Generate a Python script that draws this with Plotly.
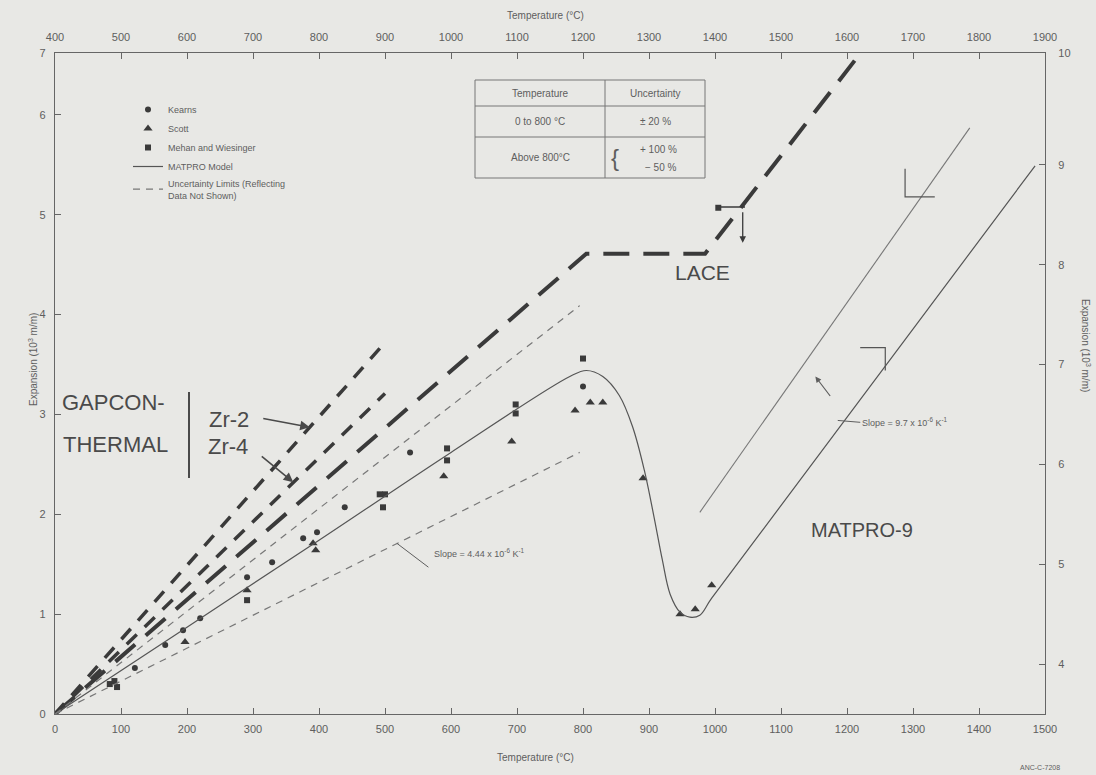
import plotly.graph_objects as go

# ---- measured data (temperature in deg C, expansion in 1e-3 m/m) ----
kearns_T = [121, 167, 194, 220, 291, 329, 376, 397, 439, 538, 800]
kearns_E = [0.46, 0.69, 0.84, 0.96, 1.37, 1.52, 1.76, 1.82, 2.07, 2.62, 3.28]

scott_T = [197, 291, 391, 395, 589, 692, 788, 811, 830, 891, 947, 970, 995]
scott_E = [0.72, 1.24, 1.71, 1.64, 2.38, 2.73, 3.04, 3.12, 3.12, 2.36, 1.00, 1.05, 1.29]

mehan_T = [83, 90, 94, 291, 492, 500, 497, 594, 594, 698, 698, 800, 1005]
mehan_E = [0.30, 0.33, 0.27, 1.14, 2.20, 2.20, 2.07, 2.66, 2.54, 3.10, 3.01, 3.56, 5.07]

# ---- MATPRO-9 model curve ----
model_T = [0, 200, 400, 600, 780, 805, 830, 855, 875, 893, 908, 920, 932, 947, 962, 977, 995, 1485]
model_E = [0, 0.87, 1.74, 2.62, 3.38, 3.44, 3.38, 3.19, 2.88, 2.44, 1.96, 1.55, 1.20, 1.02, 0.97, 0.99, 1.16, 5.49]

# ---- uncertainty limits ----
unc_hi_T = [0, 795]
unc_hi_E = [0, 4.09]
unc_lo_T = [0, 795]
unc_lo_E = [0, 2.62]
beta_hi_T = [977, 1386]
beta_hi_E = [2.02, 5.87]

# ---- other codes ----
gap_zr2_T = [0, 500]
gap_zr2_E = [0, 3.72]
gap_zr4_T = [0, 500]
gap_zr4_E = [0, 3.21]
lace_T = [0, 805, 985, 1217]
lace_E = [0, 4.61, 4.61, 6.59]

# small end-of-range flags
flag1_T = [1288, 1288, 1333]
flag1_E = [5.46, 5.18, 5.18]
flag2_T = [1220, 1258, 1258]
flag2_E = [3.67, 3.67, 3.44]

# ---- axes ----
bottom_ticks = list(range(0, 1501, 100))
top_ticks = list(range(400, 1901, 100))
left_ticks = [0, 1, 2, 3, 4, 5, 6, 6.62]
left_text = ["0", "1", "2", "3", "4", "5", "6", "7"]
right_ticks = [4, 5, 6, 7, 8, 9, 10.12]
right_text = ["4", "5", "6", "7", "8", "9", "10"]

INK = "#3a3a3a"
GREY = "#5e5e5e"
BG = "#e8e8e5"
FONT = "Liberation Sans"

fig = go.Figure()

# code predictions (thick dashed)
fig.add_trace(go.Scatter(x=gap_zr2_T, y=gap_zr2_E, mode="lines", showlegend=False,
                         line=dict(color=INK, width=3.5, dash="14px,11px")))
fig.add_trace(go.Scatter(x=gap_zr4_T, y=gap_zr4_E, mode="lines", showlegend=False,
                         line=dict(color=INK, width=3.5, dash="14px,11px")))
fig.add_trace(go.Scatter(x=lace_T, y=lace_E, mode="lines", showlegend=False,
                         line=dict(color=INK, width=4, dash="26px,14px")))

# data
fig.add_trace(go.Scatter(x=kearns_T, y=kearns_E, mode="markers", name="Kearns",
                         marker=dict(symbol="circle", size=6, color=INK)))
fig.add_trace(go.Scatter(x=scott_T, y=scott_E, mode="markers", name="Scott",
                         marker=dict(symbol="triangle-up", size=8, color=INK)))
fig.add_trace(go.Scatter(x=mehan_T, y=mehan_E, mode="markers", name="Mehan and Wiesinger",
                         marker=dict(symbol="square", size=6, color=INK)))

# model and limits
fig.add_trace(go.Scatter(x=model_T, y=model_E, mode="lines", name="MATPRO Model",
                         line=dict(color="#555555", width=1.2), line_shape="spline"))
fig.add_trace(go.Scatter(x=unc_hi_T, y=unc_hi_E, mode="lines",
                         name="Uncertainty Limits (Reflecting<br>Data Not Shown)",
                         line=dict(color="#777777", width=1.2, dash="7px,6px")))
fig.add_trace(go.Scatter(x=unc_lo_T, y=unc_lo_E, mode="lines", showlegend=False,
                         line=dict(color="#777777", width=1.2, dash="7px,6px")))
fig.add_trace(go.Scatter(x=beta_hi_T, y=beta_hi_E, mode="lines", showlegend=False,
                         line=dict(color="#777777", width=1.1)))
fig.add_trace(go.Scatter(x=flag1_T, y=flag1_E, mode="lines", showlegend=False,
                         line=dict(color="#555555", width=1.2)))
fig.add_trace(go.Scatter(x=flag2_T, y=flag2_E, mode="lines", showlegend=False,
                         line=dict(color="#555555", width=1.2)))

# secondary axes carrier
fig.add_trace(go.Scatter(x=[1000], y=[7], xaxis="x2", yaxis="y2", mode="markers",
                         marker=dict(opacity=0), showlegend=False, hoverinfo="skip"))

# plot area in pixels: left 55, right 1045, top 53, bottom 714
L, R, T, B = 55, 1045, 53, 714
W, H = 1096, 775


def px(xp, yp):
    return (xp - L) / (R - L), (B - yp) / (B - T)


tick_font = dict(family=FONT, size=11, color=GREY)


def axis_style(standoff):
    return dict(showgrid=False, zeroline=False, showline=True, linecolor="#666666",
                linewidth=1.2, ticks="inside", ticklen=6, tickcolor="#666666",
                tickfont=tick_font, ticklabelstandoff=standoff)


fig.update_layout(
    width=W, height=H,
    margin=dict(l=L, r=W - R, t=T, b=H - B),
    paper_bgcolor=BG, plot_bgcolor=BG,
    font=dict(family=FONT, color=GREY),
    xaxis=dict(range=[0, 1500], tickvals=bottom_ticks, **axis_style(5)),
    xaxis2=dict(range=[400, 1900], tickvals=top_ticks, overlaying="x", side="top",
                **axis_style(7)),
    yaxis=dict(range=[0, 6.62], tickvals=left_ticks, ticktext=left_text, **axis_style(6)),
    yaxis2=dict(range=[3.5, 10.12], tickvals=right_ticks, ticktext=right_text,
                overlaying="y", side="right", **axis_style(10)),
    legend=dict(x=px(128, 0)[0], y=px(0, 95)[1], xanchor="left", yanchor="top",
                bgcolor="rgba(0,0,0,0)", font=dict(family=FONT, size=9, color=GREY),
                tracegroupgap=0, itemwidth=30),
    showlegend=True,
)

ann = []


def text(xp, yp, s, size=11, color=GREY, angle=0, family=FONT, xanchor="center"):
    x, y = px(xp, yp)
    ann.append(dict(x=x, y=y, xref="paper", yref="paper", text=s, showarrow=False,
                    font=dict(family=family, size=size, color=color), textangle=angle,
                    xanchor=xanchor, yanchor="middle"))


# axis titles
text(545, 15, "Temperature (°C)", size=10)
text(535, 757, "Temperature (°C)", size=10)
text(33, 360, "Expansion (10<sup>3</sup> m/m)", size=10, angle=-90)
text(1086, 345, "Expansion (10<sup>3</sup> m/m)", size=10, angle=90)
text(1040, 768, "ANC-C-7208", size=7)

# hand-lettered labels
BIG = "#4a4a4a"
text(113, 402, "GAPCON-", size=22, color=BIG)
text(115, 444, "THERMAL", size=22, color=BIG)
text(229, 419, "Zr-2", size=22, color=BIG)
text(228, 446, "Zr-4", size=22, color=BIG)
text(702, 272, "LACE", size=21, color=BIG)
text(862, 530, "MATPRO-9", size=20, color=BIG)

# slope notes
text(432, 553, "Slope = 4.44 x 10<sup>-6</sup> K<sup>-1</sup>", size=9, xanchor="left")
text(860, 422, "Slope = 9.7 x 10<sup>-6</sup> K<sup>-1</sup>", size=9, xanchor="left")

# uncertainty table
tx0, tx1, tx2 = 475, 605, 705
ty0, ty1, ty2, ty3 = 80, 106, 137, 178
text(540, 93, "Temperature", size=10)
text(655, 93, "Uncertainty", size=10)
text(540, 121, "0 to 800 °C", size=10)
text(655, 121, "± 20 %", size=10)
text(540, 157, "Above 800°C", size=10)
text(615, 157, "{", size=24)
text(658, 149, "+ 100 %", size=10)
text(661, 167, "− 50 %", size=10)

# arrows (data-coordinate tips)
arrows = [
    # tip (T, E), tail offset (px)
    (386, 0.00744 * 386, -48, -9),   # Zr-2
    (361, 0.00643 * 361, -33, -27),  # Zr-4
]
for xt, yt, axp, ayp in arrows:
    ann.append(dict(x=xt, y=yt, xref="x", yref="y", ax=axp, ay=ayp, text="",
                    showarrow=True, arrowhead=2, arrowsize=1.2, arrowwidth=1.6,
                    arrowcolor=BIG))
# slope leaders (no heads)
ann.append(dict(x=518, y=0.00330 * 518, xref="x", yref="y", ax=33, ay=25, text="",
                showarrow=True, arrowhead=0, arrowwidth=1, arrowcolor=GREY))
ann.append(dict(x=1186, y=2.94, xref="x", yref="y", ax=24, ay=2, text="",
                showarrow=True, arrowhead=0, arrowwidth=1, arrowcolor=GREY))
# offset arrow between high-temperature lines
ann.append(dict(x=1152, y=3.38, xref="x", yref="y", ax=16, ay=21, text="",
                showarrow=True, arrowhead=2, arrowwidth=1.2, arrowcolor=GREY))
# point marker with downward arrow
ann.append(dict(x=1042, y=4.72, xref="x", yref="y", ax=0, ay=-32, text="",
                showarrow=True, arrowhead=2, arrowwidth=1.3, arrowcolor=INK))

shapes = []


def seg(x0p, y0p, x1p, y1p, color="#777777", width=1):
    a0, b0 = px(x0p, y0p)
    a1, b1 = px(x1p, y1p)
    shapes.append(dict(type="line", xref="paper", yref="paper", x0=a0, y0=b0, x1=a1, y1=b1,
                       line=dict(color=color, width=width)))


# table ruling
seg(tx0, ty0, tx2, ty0)
seg(tx0, ty3, tx2, ty3)
seg(tx0, ty1, tx2, ty1)
seg(tx0, ty2, tx2, ty2)
seg(tx0, ty0, tx0, ty3)
seg(tx2, ty0, tx2, ty3)
seg(tx1, ty0, tx1, ty3)
# brace between code names and alloys
seg(189, 392, 189, 478, color=BIG, width=2)
# bar on the marker with arrow
seg(720, 207, 745, 207, color=INK, width=1.5)

fig.update_layout(annotations=ann, shapes=shapes)
fig.write_html("out.html")
